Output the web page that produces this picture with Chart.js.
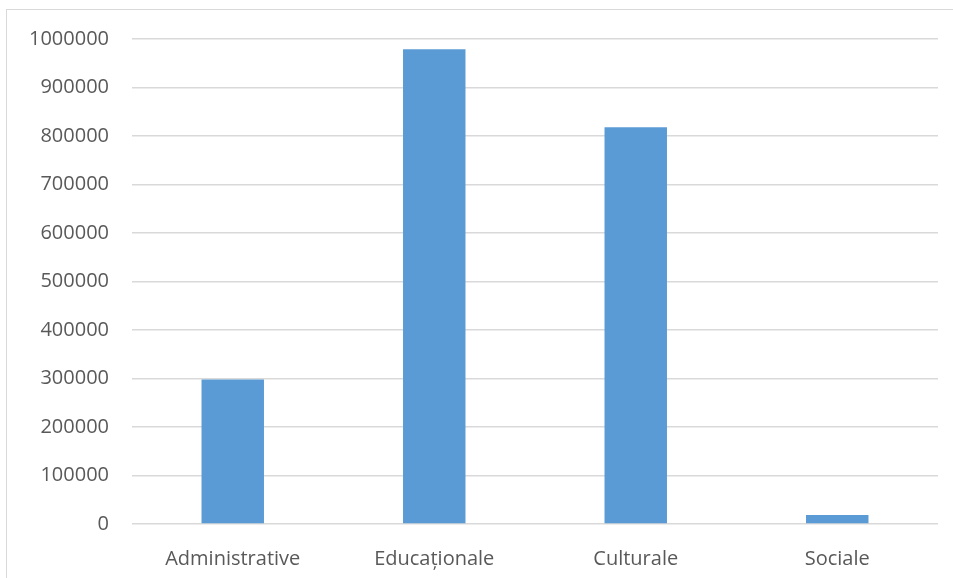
<!DOCTYPE html>
<html>
<head>
<meta charset="utf-8">
<script src="https://cdn.jsdelivr.net/npm/chart.js@4"></script>
<style>
    html, body { margin: 0; padding: 0; background: #fff; overflow: hidden; }
    #frame { position: absolute; left: 6px; top: 9px; width: 980px; height: 600px; border: 1px solid #d9d9d9; }
    #wrap { position: absolute; left: 0; top: 0; width: 953px; height: 578px; }
</style>
</head>
<body>
<div id="frame"></div>
<div id="wrap"><canvas id="chart"></canvas></div>
<script>
// Data
const categories = ['Administrative', 'Educaționale', 'Culturale', 'Sociale'];
const values = [298000, 979000, 818000, 18500];

const ctx = document.getElementById('chart').getContext('2d');
new Chart(ctx, {
    type: 'bar',
    data: {
        labels: categories,
        datasets: [{
            data: values,
            backgroundColor: '#5b9bd5',
            categoryPercentage: 1,
            barPercentage: 0.31
        }]
    },
    options: {
        responsive: true,
        maintainAspectRatio: false,
        animation: false,
        devicePixelRatio: 1,
        layout: { padding: { top: 39, right: 15, left: 0, bottom: 0 } },
        plugins: { legend: { display: false }, tooltip: { enabled: false } },
        scales: {
            x: {
                grid: { display: false },
                border: { display: false },
                ticks: { color: '#595959', font: { family: 'Open Sans', size: 20 }, padding: 15 },
                afterFit: (scale) => { scale.height = 54; }
            },
            y: {
                min: 0,
                max: 1000000,
                ticks: {
                    stepSize: 100000,
                    color: '#595959',
                    font: { family: 'Open Sans', size: 20 },
                    padding: 23,
                    callback: (v) => String(v)
                },
                grid: { color: '#d9d9d9', lineWidth: 1.5, drawTicks: false },
                border: { display: false },
                afterFit: (scale) => { scale.width = 132; }
            }
        }
    }
});
</script>
</body>
</html>
